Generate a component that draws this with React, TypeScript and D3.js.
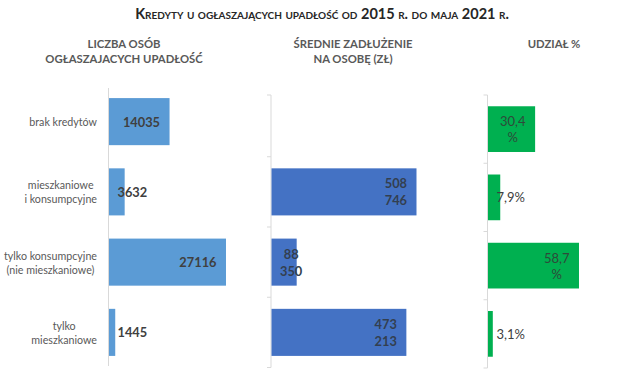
import React from 'react';
import * as d3 from 'd3';

// categories (wrapped the same way as on the chart)
const categories = ['brak kredytów', 'mieszkaniowe i konsumpcyjne', 'tylko konsumpcyjne (nie mieszkaniowe)', 'tylko mieszkaniowe'];
const categoryLines = [['brak kredytów'], ['mieszkaniowe', 'i konsumpcyjne'], ['tylko konsumpcyjne', '(nie mieszkaniowe)'], ['tylko', 'mieszkaniowe']];

// series
const people = [14035, 3632, 27116, 1445];
const avgDebt: (number | null)[] = [null, 508746, 88350, 473213];
const share = [30.4, 7.9, 58.7, 3.1];

const title = 'Kredyty u ogłaszających upadłość od 2015 r. do maja 2021 r.';
const header1 = ['LICZBA OSÓB', 'OGŁASZAJACYCH UPADŁOŚĆ'];
const header2 = ['ŚREDNIE ZADŁUŻENIE', 'NA OSOBĘ (ZŁ)'];
const header3 = ['UDZIAŁ %'];

const W = 640;
const H = 382;
const FONT = 'Lato, "Open Sans", sans-serif';
const GRAY = '#595959';
const LABEL = '#404040';
const AXIS = '#d9d9d9';

// text width helper
let ctx: CanvasRenderingContext2D | null = null;
const measure = (s: string, font: string) => {
  if (!ctx) ctx = document.createElement('canvas').getContext('2d');
  if (!ctx) return s.length * 6;
  ctx.font = font;
  return ctx.measureText(s).width;
};

const App = () => {
  // panels 1 and 2 share the same bands, panel 3 is slightly shifted
  const y12 = d3.scaleBand<string>().domain(categories).range([86.5, 367.5]).paddingInner(0.33).paddingOuter(0.165);
  const y3 = d3.scaleBand<string>().domain(categories).range([95, 368]).paddingInner(0.33).paddingOuter(0.165);

  const x1 = d3.scaleLinear().domain([0, 35000]).range([108.5, 259.5]);
  const x2 = d3.scaleLinear().domain([0, 600000]).range([271, 442]);
  const x3 = d3.scaleLinear().domain([0, 70]).range([487.5, 596]);

  const fmtNum = (v: number) => d3.format(',')(v).split(',');
  const fmtPct = (v: number) => d3.format('.1f')(v).replace('.', ',');

  const catFont = `10.7px ${FONT}`;
  const boldFont = `bold 12.8px ${FONT}`;
  const pctFont = `13px ${FONT}`;

  const bounds12 = categories.map((c) => (y12(c) as number) - y12.step() * 0.165);
  bounds12.push(y12.range()[1]);
  const bounds3 = categories.map((c) => (y3(c) as number) - y3.step() * 0.165);
  bounds3.push(y3.range()[1]);

  const headerProps = { textAnchor: 'middle' as const, fontSize: 11.3, fontWeight: 'bold', fill: GRAY };

  return (
    <svg width={W} height={H} style={{ position: 'absolute', left: 0, top: 0, background: '#fff' }} fontFamily={FONT}>
      <rect width={W} height={H} fill="#fff" />

      {/* title */}
      <text x={322} y={19} textAnchor="middle" fontSize={14.5} fontWeight="bold" fill="#262626" style={{ fontVariant: 'small-caps' }}>
        {title}
      </text>

      {/* column headers */}
      {header1.map((t, i) => (
        <text key={t} x={124} y={48 + i * 15} {...headerProps}>{t}</text>
      ))}
      {header2.map((t, i) => (
        <text key={t} x={353} y={48 + i * 15} {...headerProps}>{t}</text>
      ))}
      {header3.map((t, i) => (
        <text key={t} x={554} y={48 + i * 15} {...headerProps}>{t}</text>
      ))}

      {/* category labels */}
      {categories.map((c, i) => {
        const lines = categoryLines[i];
        const bw = d3.max(lines, (l) => measure(l, catFont)) as number;
        const cx = 97 - bw / 2;
        const cy = (y12(c) as number) + y12.bandwidth() / 2;
        const lh = 14;
        return lines.map((l, j) => (
          <text key={c + j} x={cx} y={cy + (j - (lines.length - 1) / 2) * lh} textAnchor="middle" dominantBaseline="central" fontSize={10.7} fill={GRAY}>{l}</text>
        ));
      })}

      {/* panel 1 */}
      <line x1={x1(0)} x2={x1(0)} y1={88} y2={366} stroke={AXIS} />
      {categories.map((c, i) => {
        const v = people[i];
        const y = y12(c) as number;
        const w = measure(String(v), boldFont);
        const tx = Math.max(x1(v) - 9, x1(0) + 9 + w);
        return (
          <g key={c}>
            <rect x={x1(0) + 0.5} y={y} width={x1(v) - x1(0)} height={y12.bandwidth()} fill="#5b9bd5" />
            <text x={tx} y={y + y12.bandwidth() / 2} textAnchor="end" dominantBaseline="central" fontSize={12.8} fontWeight="bold" fill={LABEL}>{v}</text>
          </g>
        );
      })}

      {/* panel 2 */}
      <line x1={x2(0)} x2={x2(0)} y1={95} y2={bounds12[4]} stroke={AXIS} />
      {[95, ...bounds12.slice(1)].map((b, i) => (
        <line key={i} x1={x2(0) - 4} x2={x2(0)} y1={b} y2={b} stroke={AXIS} />
      ))}
      {categories.map((c, i) => {
        const v = avgDebt[i];
        if (v == null) return null;
        const y = y12(c) as number;
        const lines = fmtNum(v);
        const bw = d3.max(lines, (l) => measure(l, boldFont)) as number;
        const cx = Math.max(x2(v) - 9 - bw / 2, x2(0) + 9 + bw / 2);
        const cy = y + y12.bandwidth() / 2;
        return (
          <g key={c}>
            <rect x={x2(0) + 0.5} y={y} width={x2(v) - x2(0)} height={y12.bandwidth()} fill="#4472c4" />
            {lines.map((l, j) => (
              <text key={j} x={cx} y={cy + (j - (lines.length - 1) / 2) * 17} textAnchor="middle" dominantBaseline="central" fontSize={12.8} fontWeight="bold" fill="#333f50">{l}</text>
            ))}
          </g>
        );
      })}

      {/* panel 3 */}
      <line x1={x3(0)} x2={x3(0)} y1={bounds3[0]} y2={bounds3[4]} stroke={AXIS} />
      {bounds3.map((b, i) => (
        <line key={i} x1={x3(0) - 4} x2={x3(0)} y1={b} y2={b} stroke={AXIS} />
      ))}
      {categories.map((c, i) => {
        const v = share[i];
        const y = y3(c) as number;
        const barW = x3(v) - x3(0);
        const inside = barW > 30;
        const lines = inside ? [fmtPct(v), '%'] : [fmtPct(v) + '%'];
        const bw = d3.max(lines, (l) => measure(l, pctFont)) as number;
        const cx = inside ? x3(v) - 9 - bw / 2 : x3(0) + 9 + bw / 2;
        const cy = y + y3.bandwidth() / 2;
        return (
          <g key={c}>
            <rect x={x3(0) + 0.5} y={y} width={barW} height={y3.bandwidth()} fill="#00b050" />
            {lines.map((l, j) => (
              <text key={j} x={cx} y={cy + (j - (lines.length - 1) / 2) * 16} textAnchor="middle" dominantBaseline="central" fontSize={13} fill={inside ? '#2e4a3a' : LABEL}>{l}</text>
            ))}
          </g>
        );
      })}
    </svg>
  );
};

export default App;
